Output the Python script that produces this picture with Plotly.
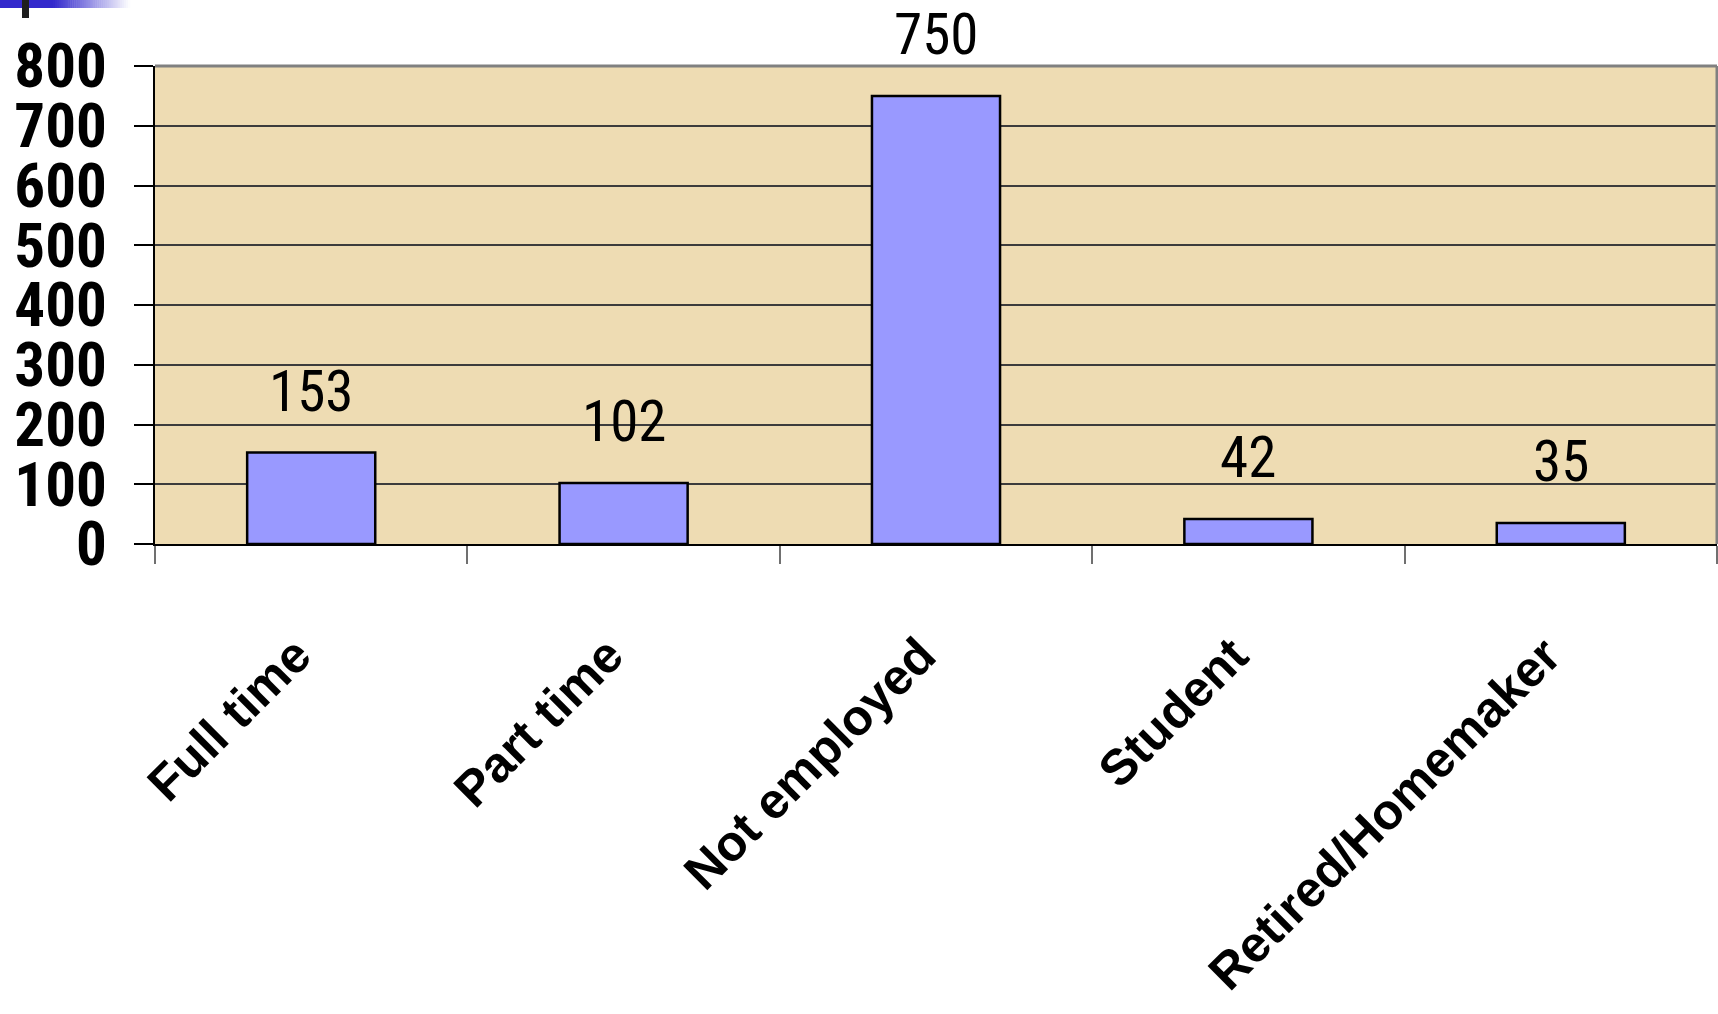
import plotly.graph_objects as go

# Employment status counts
categories = ["Full time", "Part time", "Not employed", "Student", "Retired/Homemaker"]
counts = [153, 102, 750, 42, 35]
y_ticks = [0, 100, 200, 300, 400, 500, 600, 700, 800]

W, H = 1718, 1014
ML, MR, MT, MB = 155, 1, 66, 470
PW, PH = W - ML - MR, H - MT - MB

NARROW = "Roboto Condensed, Liberation Sans Narrow, Arial Narrow, sans-serif"
SANS = "Liberation Sans, Arial, Helvetica, sans-serif"


def px_x(px):
    return (px - ML) / PW


def px_y(py):
    return (H - MB - py) / PH


fig = go.Figure(
    go.Bar(
        x=categories,
        y=counts,
        width=0.41,
        marker=dict(color="#9999FF", line=dict(color="#000000", width=2.5)),
        hoverinfo="skip",
    )
)

# value labels floating above each bar
for cat, val in zip(categories, counts):
    fig.add_annotation(
        x=cat, y=val, text=str(val), showarrow=False,
        yanchor="bottom", yshift=26,
        font=dict(family=NARROW, size=57, color="#000000"),
    )

shapes = []
# gray frame on top and right of the plotting area
shapes.append(dict(type="line", xref="paper", yref="paper", x0=0, x1=1, y0=1, y1=1,
                   line=dict(color="#808080", width=3), layer="above"))
shapes.append(dict(type="line", xref="paper", yref="paper", x0=1, x1=1, y0=0, y1=1,
                   line=dict(color="#808080", width=3), layer="above"))

# slide header accent in the top-left corner
c0 = (51, 41, 204)
shapes.append(dict(type="rect", xref="paper", yref="paper",
                   x0=px_x(0), x1=px_x(54), y0=px_y(8), y1=px_y(0),
                   line=dict(width=0), fillcolor="rgb(%d,%d,%d)" % c0))
steps = 40
x_start, x_end = 53, 130
for i in range(steps):
    t = (i + 0.5) / steps
    col = tuple(round(c + (255 - c) * t) for c in c0)
    xa = x_start + (x_end - x_start) * i / steps
    xb = x_start + (x_end - x_start) * (i + 1) / steps + 0.5
    shapes.append(dict(type="rect", xref="paper", yref="paper",
                       x0=px_x(xa), x1=px_x(xb), y0=px_y(8), y1=px_y(0),
                       line=dict(width=0), fillcolor="rgb(%d,%d,%d)" % col))
shapes.append(dict(type="rect", xref="paper", yref="paper",
                   x0=px_x(22), x1=px_x(29), y0=px_y(18), y1=px_y(0),
                   line=dict(width=0), fillcolor="#1e1e1e"))

fig.update_layout(
    width=W, height=H,
    margin=dict(l=ML, r=MR, t=MT, b=MB, pad=0, autoexpand=False),
    paper_bgcolor="#ffffff",
    plot_bgcolor="#EEDCB3",
    showlegend=False,
    hovermode=False,
    bargap=0.59,
    shapes=shapes,
    xaxis=dict(
        type="category",
        automargin=False,
        showgrid=False,
        showline=True, linecolor="#000000", linewidth=2,
        ticks="outside", tickson="boundaries", ticklen=18, tickcolor="#707070", tickwidth=1.5,
        tickangle=-45,
        ticklabelstandoff=60,
        ticklabelshift=-15,
        tickfont=dict(family=SANS, size=50, color="#000000", weight="bold"),
        fixedrange=True,
    ),
    yaxis=dict(
        range=[0, 800],
        automargin=False,
        tickvals=y_ticks,
        ticktext=[str(v) for v in y_ticks],
        showgrid=True, gridcolor="#3c3c3c", gridwidth=1.5,
        zeroline=False,
        showline=True, linecolor="#000000", linewidth=2,
        ticks="outside", ticklen=19, tickcolor="#000000", tickwidth=1.5,
        ticklabelstandoff=15,
        tickfont=dict(family=NARROW, size=61, color="#000000", weight="bold"),
        fixedrange=True,
    ),
)

fig.write_html("out.html")
